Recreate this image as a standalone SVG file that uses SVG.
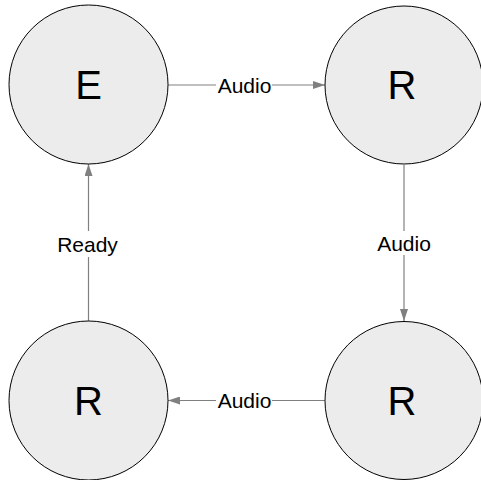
<svg xmlns="http://www.w3.org/2000/svg" width="481" height="480" viewBox="0 0 481 480">
<defs>
<style>
.node circle{fill:#ececec;stroke:#000;stroke-width:1}
.node text{font-family:"Liberation Sans",Arial,sans-serif;font-size:40px;fill:#000;text-anchor:middle;dominant-baseline:central}
.edge line{stroke:#808080;stroke-width:1.2}
.lbl rect{fill:#fff}
.lbl text{font-family:"Liberation Sans",Arial,sans-serif;font-size:21px;fill:#000;text-anchor:middle;dominant-baseline:central}
</style>
<marker id="arr" viewBox="0 0 12 8" refX="12" refY="4" markerWidth="12" markerHeight="8" markerUnits="userSpaceOnUse" orient="auto">
<path d="M0,0 L12,4 L0,8 Z" fill="#808080"/>
</marker>
</defs>
<rect width="481" height="480" fill="#fff"/>
<g id="connectors" class="edge">
<line x1="168" y1="85" x2="325" y2="85" marker-end="url(#arr)"/>
<line x1="404" y1="165" x2="404" y2="321" marker-end="url(#arr)"/>
<line x1="325" y1="400.5" x2="168" y2="400.5" marker-end="url(#arr)"/>
<line x1="88.5" y1="321" x2="88.5" y2="164" marker-end="url(#arr)"/>
<g class="lbl">
<rect x="216" y="74" width="56" height="22"/><text x="244.5" y="85">Audio</text>
<rect x="376" y="231" width="56" height="24"/><text x="404" y="243">Audio</text>
<rect x="216" y="389" width="56" height="22"/><text x="244.5" y="400">Audio</text>
<rect x="54" y="231" width="68" height="26"/><text x="87.5" y="244">Ready</text>
</g>
</g>
<g id="nodeE" class="node"><circle cx="88.5" cy="84.5" r="79.5"/><text x="88.5" y="85">E</text></g>
<g id="nodeR1" class="node"><circle cx="404" cy="85" r="79"/><text x="402" y="85">R</text></g>
<g id="nodeR2" class="node"><circle cx="404" cy="400.5" r="79"/><text x="402" y="401">R</text></g>
<g id="nodeR3" class="node"><circle cx="88.5" cy="400.5" r="79.5"/><text x="88.5" y="401">R</text></g>
</svg>
